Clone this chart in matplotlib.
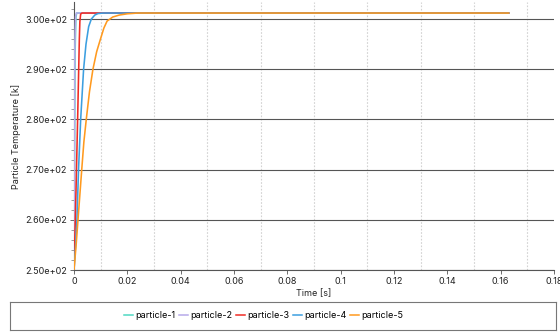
import numpy as np
import matplotlib
matplotlib.use("Agg")
import matplotlib.pyplot as plt
from matplotlib.ticker import MultipleLocator, AutoMinorLocator, FuncFormatter
from matplotlib.lines import Line2D

plt.rcParams['font.family'] = ['Inter', 'DejaVu Sans']
plt.rcParams['font.size'] = 6.5

# particle temperature histories (time in s, temperature in K)
t_p1 = [0, 0.0002, 0.0004, 0.0007, 0.001, 0.163]
T_p1 = [250, 272, 293, 300.3, 301.2, 301.2]
t_p2 = [0, 0.0001, 0.0003, 0.0006, 0.0009, 0.163]
T_p2 = [250, 270, 294, 300.5, 301.2, 301.2]
t_p3 = [0, 0.0005, 0.0008, 0.0011, 0.0014, 0.0016, 0.0018, 0.002, 0.0022, 0.0025, 0.003, 0.163]
T_p3 = [250, 260, 267, 274, 281, 286, 291, 296, 299.5, 301, 301.2, 301.2]
t_p4 = [0, 0.0006, 0.0011, 0.0017, 0.0025, 0.0036, 0.0045, 0.0055, 0.0065, 0.0078, 0.009, 0.011, 0.014, 0.163]
T_p4 = [250, 255, 260, 270, 280, 290, 295, 298.5, 300, 300.8, 301.1, 301.2, 301.2, 301.2]
t_p5 = [0, 0.0008, 0.0015, 0.0029, 0.0037, 0.0046, 0.0058, 0.0071, 0.0085, 0.0098, 0.0112,
        0.0124, 0.0145, 0.017, 0.020, 0.024, 0.03, 0.163]
T_p5 = [250, 255, 260, 270, 275.5, 280, 285.5, 290, 293.5, 295.8, 298.2,
        299.6, 300.4, 300.8, 301.05, 301.2, 301.2, 301.2]

names = ['particle-1', 'particle-2', 'particle-3', 'particle-4', 'particle-5']
colors = ['#4fd9c2', '#b7a9ea', '#f02b24', '#3c9fe0', '#ff9a1f']
series = [(t_p1, T_p1), (t_p2, T_p2), (t_p3, T_p3), (t_p4, T_p4), (t_p5, T_p5)]

fig = plt.figure(figsize=(5.6, 3.33), dpi=100)
ax = fig.add_axes([74/560, 1 - 270/333, 480/560, 268/333])

for (t, T), c in zip(series, colors):
    ax.plot(t, T, color=c, lw=1.15, zorder=3)

ax.set_xlim(0, 0.18)
ax.set_ylim(250, 303.4)

ax.xaxis.set_major_locator(MultipleLocator(0.02))
ax.xaxis.set_minor_locator(MultipleLocator(0.01))
ax.yaxis.set_major_locator(MultipleLocator(10))
ax.yaxis.set_minor_locator(AutoMinorLocator(5))
ax.xaxis.set_major_formatter(FuncFormatter(lambda v, p: '{:g}'.format(round(v, 4))))
ax.yaxis.set_major_formatter(FuncFormatter(lambda v, p: '%.2e' % v))

# dotted lines on the odd hundredths, solid lines at the temperature ticks
for xm in np.arange(0.01, 0.18, 0.02):
    ax.axvline(xm, color='#d2d2d2', lw=0.8, ls=(0, (1.5, 1.5)), zorder=1)
ax.yaxis.grid(True, which='major', color='#555555', lw=0.8, zorder=1)

for s in ['top', 'right']:
    ax.spines[s].set_visible(False)
for s in ['left', 'bottom']:
    ax.spines[s].set_color('#555555')
    ax.spines[s].set_linewidth(0.8)
ax.tick_params(which='major', length=3, width=0.6, color='#555555', pad=2, labelcolor='#222222')
ax.tick_params(which='minor', length=2, width=0.5, color='#777777')
ax.tick_params(axis='x', which='minor', length=0)

ax.set_xlabel('Time [s]', labelpad=2.5, color='#222222')
ax.set_ylabel('Particle Temperature [k]', labelpad=3, color='#222222')

# legend in its own framed strip at the bottom
lax = fig.add_axes([10/560, 1 - 330/333, 546/560, 28/333])
lax.set_xticks([])
lax.set_yticks([])
for s in lax.spines.values():
    s.set_color('#777777')
    s.set_linewidth(0.8)
handles = [Line2D([], [], color=c, lw=1.1) for c in colors]
lax.legend(handles, names, loc='center', bbox_to_anchor=(0.465, 0.5), ncol=5, frameon=False,
           handlelength=1.0, handletextpad=0.25, columnspacing=0.4, fontsize=6.5)

fig.savefig('out.png', dpi=100)
